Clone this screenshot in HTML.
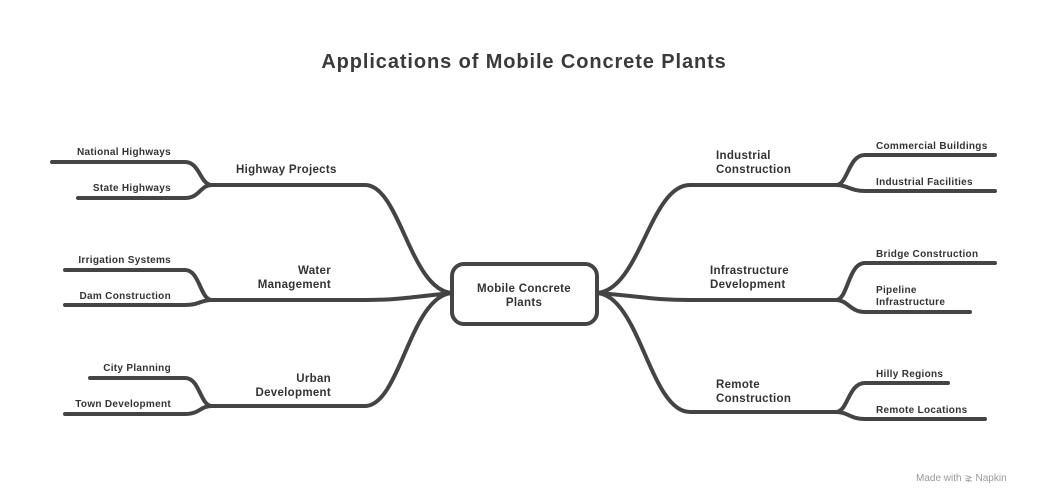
<!DOCTYPE html>
<html><head><meta charset="utf-8"><style>
html,body{margin:0;padding:0;background:#fff;}
svg{display:block;font-family:"Liberation Sans",sans-serif;font-weight:bold;fill:#333;}
</style></head><body>
<svg width="1048" height="504" viewBox="0 0 1048 504">
<text x="524" y="68" text-anchor="middle" font-size="20" letter-spacing="0.9" fill="#3a3a3a">Applications of Mobile Concrete Plants</text>
<g fill="none" stroke="#444" stroke-width="4" stroke-linecap="round">
<path d="M452,293 C410,290 400,185 365,185 L210,185"/>
<path d="M52,162 L185,162 C200,162 200,185 212,185"/>
<path d="M78,198 L185,198 C200,198 200,185 212,185"/>
<path d="M452,293 C420,296 400,300 365,300 L210,300"/>
<path d="M65,270 L185,270 C200,270 200,300 212,300"/>
<path d="M65,305 L185,305 C200,305 200,300 212,300"/>
<path d="M452,293 C410,296 400,406 365,406 L210,406"/>
<path d="M90,378 L185,378 C200,378 200,406 212,406"/>
<path d="M65,414 L185,414 C200,414 200,406 212,406"/>
<path d="M597,293 C640,290 650,185 690,185 L836,185"/>
<path d="M836,185 C848,185 848,155 865,155 L995,155"/>
<path d="M836,185 C848,185 850,191 865,191 L995,191"/>
<path d="M597,293 C640,296 650,300 690,300 L836,300"/>
<path d="M836,300 C848,300 848,263 865,263 L995,263"/>
<path d="M836,300 C848,300 850,312 865,312 L970,312"/>
<path d="M597,293 C640,296 650,412 690,412 L836,412"/>
<path d="M836,412 C848,412 848,383 865,383 L948,383"/>
<path d="M836,412 C848,412 850,419 865,419 L985,419"/>
<rect x="452" y="264" width="145" height="60" rx="12" fill="#fff"/>
</g>
<g font-size="11.5" fill="#333" letter-spacing="0.3">
<text x="524" y="292" text-anchor="middle">Mobile Concrete</text>
<text x="524" y="306" text-anchor="middle">Plants</text>
<text x="236" y="173">Highway Projects</text>
<text x="331" y="274" text-anchor="end">Water</text>
<text x="331" y="288" text-anchor="end">Management</text>
<text x="331" y="382" text-anchor="end">Urban</text>
<text x="331" y="396" text-anchor="end">Development</text>
<text x="716" y="159">Industrial</text>
<text x="716" y="173">Construction</text>
<text x="710" y="274">Infrastructure</text>
<text x="710" y="288">Development</text>
<text x="716" y="388">Remote</text>
<text x="716" y="402">Construction</text>
</g>
<g font-size="10" fill="#333" letter-spacing="0.3">
<text x="171" y="155" text-anchor="end">National Highways</text>
<text x="171" y="191" text-anchor="end">State Highways</text>
<text x="171" y="263" text-anchor="end">Irrigation Systems</text>
<text x="171" y="299" text-anchor="end">Dam Construction</text>
<text x="171" y="371" text-anchor="end">City Planning</text>
<text x="171" y="407" text-anchor="end">Town Development</text>
<text x="876" y="149">Commercial Buildings</text>
<text x="876" y="185">Industrial Facilities</text>
<text x="876" y="257">Bridge Construction</text>
<text x="876" y="293">Pipeline</text>
<text x="876" y="305">Infrastructure</text>
<text x="876" y="377">Hilly Regions</text>
<text x="876" y="413">Remote Locations</text>
</g>
<text x="916" y="481" font-size="10" font-weight="normal" fill="#999">Made with ⋧ Napkin</text>
</svg>
</body></html>
